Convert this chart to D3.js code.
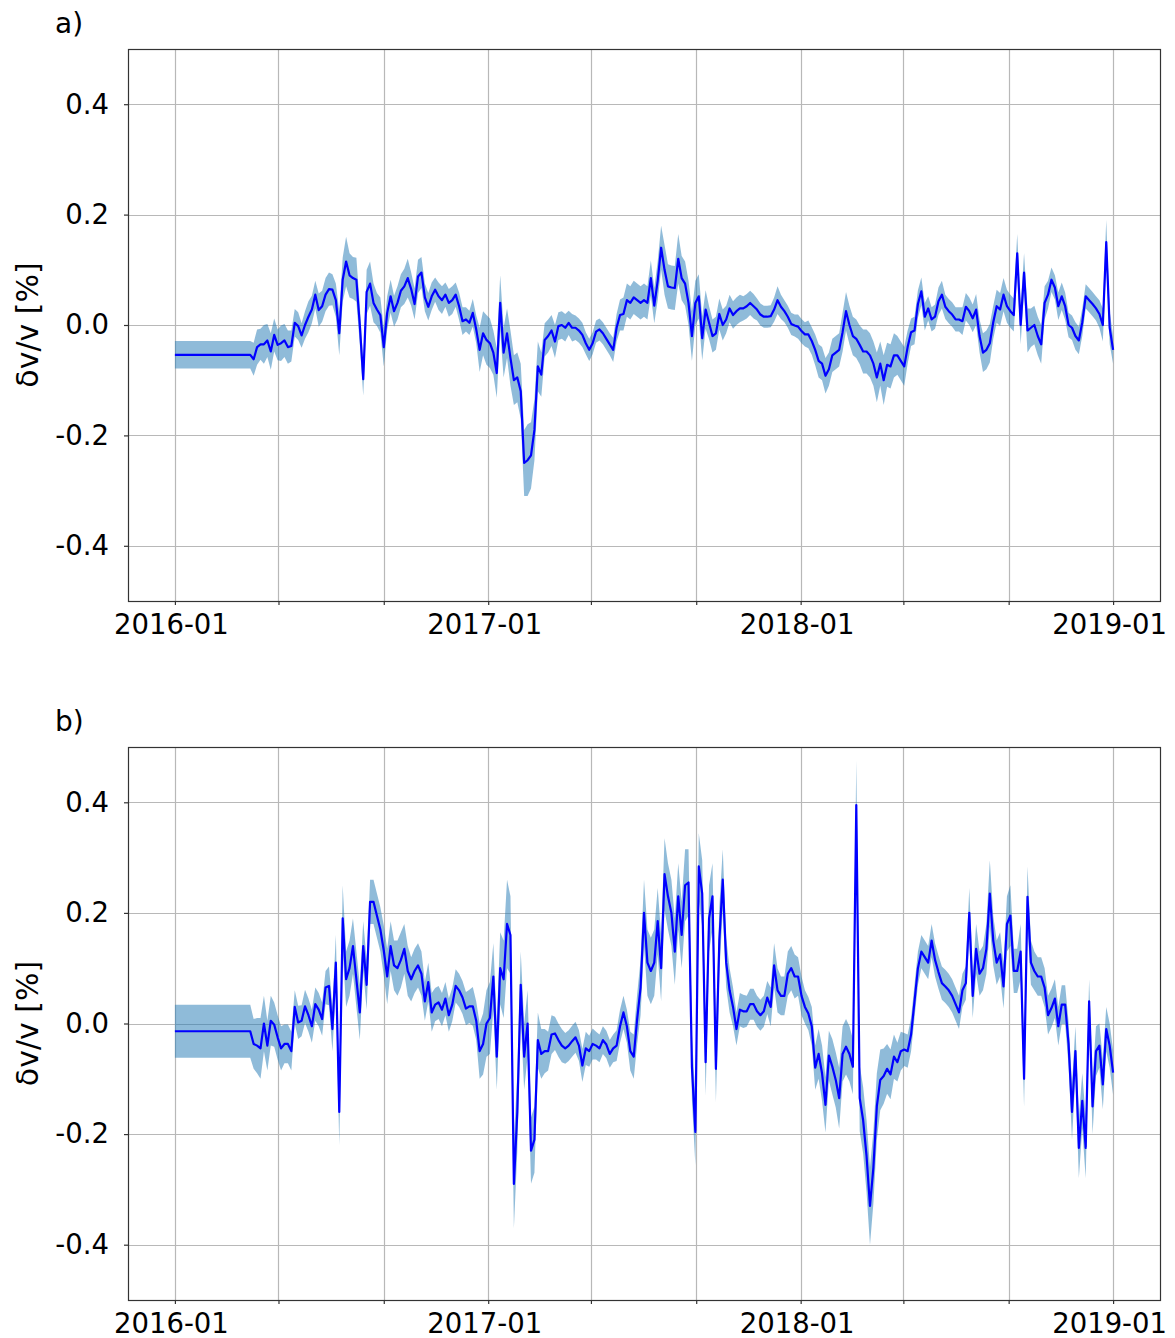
<!DOCTYPE html>
<html>
<head>
<meta charset="utf-8">
<script src="https://cdn.jsdelivr.net/npm/d3@7"></script>
<style>
  body { margin: 0; background: #fff; }
  svg { display: block; }
  text { font-family: "DejaVu Sans", sans-serif; }
</style>
</head>
<body>
<svg id="chart" width="1175" height="1338"></svg>
<script>
// Sampling of the velocity-change series: one value every 4 days from the start date.
const seriesStart = "2016-01-01";
const stepDays = 4;

// Panel a) dv/v [%]
const panelA_dv = [
  -0.054, -0.054, -0.054, -0.054, -0.054, -0.054, -0.054, -0.054, -0.054, -0.054,
  -0.054, -0.054, -0.054, -0.054, -0.054, -0.054, -0.054, -0.054, -0.054, -0.054,
  -0.054, -0.054, -0.054, -0.062, -0.040, -0.035, -0.035, -0.028, -0.048, -0.018,
  -0.036, -0.033, -0.028, -0.040, -0.038, 0.004, -0.002, -0.019, 0.000, 0.015,
  0.028, 0.055, 0.027, 0.034, 0.055, 0.065, 0.064, 0.045, -0.015, 0.082,
  0.115, 0.090, 0.085, 0.082, 0.000, -0.098, 0.060, 0.075, 0.040, 0.028,
  0.018, -0.040, 0.022, 0.052, 0.025, 0.040, 0.062, 0.070, 0.085, 0.065,
  0.038, 0.088, 0.095, 0.050, 0.033, 0.052, 0.064, 0.052, 0.045, 0.055,
  0.040, 0.045, 0.055, 0.034, 0.007, 0.010, 0.004, 0.022, -0.008, -0.045,
  -0.015, -0.027, -0.033, -0.050, -0.087, 0.040, -0.050, -0.015, -0.060, -0.100,
  -0.095, -0.120, -0.250, -0.245, -0.236, -0.190, -0.075, -0.090, -0.027, -0.020,
  -0.010, -0.030, -0.002, 0.000, -0.005, 0.004, -0.005, -0.005, -0.010, -0.018,
  -0.033, -0.045, -0.033, -0.012, -0.008, -0.015, -0.025, -0.035, -0.045, -0.005,
  0.018, 0.020, 0.045, 0.040, 0.050, 0.045, 0.040, 0.045, 0.040, 0.085,
  0.035, 0.080, 0.140, 0.100, 0.070, 0.068, 0.067, 0.120, 0.085, 0.075,
  0.040, -0.020, 0.040, 0.052, -0.024, 0.028, 0.004, -0.020, -0.015, 0.020,
  0.000, 0.010, 0.030, 0.018, 0.025, 0.030, 0.030, 0.034, 0.040, 0.034,
  0.028, 0.019, 0.015, 0.015, 0.016, 0.028, 0.045, 0.033, 0.025, 0.015,
  0.002, -0.001, -0.003, -0.011, -0.017, -0.017, -0.029, -0.045, -0.065, -0.070,
  -0.092, -0.080, -0.055, -0.050, -0.045, -0.013, 0.025, 0.000, -0.020, -0.025,
  -0.036, -0.048, -0.048, -0.055, -0.070, -0.095, -0.070, -0.100, -0.072, -0.075,
  -0.055, -0.055, -0.065, -0.075, -0.040, -0.013, -0.010, 0.038, 0.061, 0.015,
  0.030, 0.010, 0.015, 0.043, 0.055, 0.033, 0.025, 0.019, 0.010, 0.010,
  0.007, 0.033, 0.025, 0.012, 0.028, -0.020, -0.050, -0.045, -0.033, 0.005,
  0.034, 0.028, 0.055, 0.034, 0.025, 0.018, 0.130, 0.000, 0.095, -0.010,
  -0.005, 0.000, -0.020, -0.035, 0.040, 0.055, 0.082, 0.068, 0.034, 0.052,
  0.034, 0.000, -0.005, -0.020, -0.028, 0.005, 0.052, 0.045, 0.038, 0.030,
  0.020, 0.000, 0.150, -0.005, -0.045
];

// Panel a) half-width of the uncertainty band [%]
const panelA_err = [
  0.025, 0.025, 0.025, 0.025, 0.025, 0.025, 0.025, 0.025, 0.025, 0.025,
  0.025, 0.025, 0.025, 0.025, 0.025, 0.025, 0.025, 0.025, 0.025, 0.025,
  0.025, 0.025, 0.025, 0.030, 0.032, 0.028, 0.035, 0.030, 0.033, 0.030,
  0.028, 0.032, 0.030, 0.030, 0.028, 0.025, 0.025, 0.022, 0.025, 0.028,
  0.025, 0.025, 0.030, 0.028, 0.030, 0.030, 0.028, 0.030, 0.040, 0.040,
  0.045, 0.040, 0.038, 0.040, 0.035, 0.030, 0.040, 0.040, 0.035, 0.030,
  0.032, 0.035, 0.030, 0.030, 0.028, 0.030, 0.030, 0.032, 0.035, 0.030,
  0.028, 0.030, 0.028, 0.025, 0.025, 0.025, 0.022, 0.025, 0.025, 0.022,
  0.025, 0.025, 0.022, 0.025, 0.025, 0.022, 0.022, 0.025, 0.025, 0.040,
  0.040, 0.045, 0.045, 0.040, 0.045, 0.050, 0.045, 0.045, 0.050, 0.045,
  0.045, 0.050, 0.060, 0.065, 0.060, 0.055, 0.045, 0.040, 0.030, 0.030,
  0.028, 0.030, 0.025, 0.025, 0.025, 0.022, 0.025, 0.022, 0.022, 0.022,
  0.020, 0.020, 0.020, 0.020, 0.020, 0.020, 0.020, 0.020, 0.022, 0.025,
  0.028, 0.030, 0.030, 0.030, 0.030, 0.030, 0.030, 0.030, 0.030, 0.032,
  0.032, 0.035, 0.040, 0.045, 0.040, 0.040, 0.040, 0.045, 0.040, 0.040,
  0.040, 0.045, 0.040, 0.040, 0.040, 0.035, 0.030, 0.030, 0.030, 0.028,
  0.028, 0.025, 0.025, 0.025, 0.025, 0.025, 0.022, 0.022, 0.022, 0.022,
  0.020, 0.020, 0.020, 0.020, 0.020, 0.022, 0.025, 0.022, 0.020, 0.020,
  0.020, 0.020, 0.022, 0.022, 0.022, 0.025, 0.025, 0.028, 0.030, 0.030,
  0.032, 0.030, 0.030, 0.030, 0.030, 0.035, 0.035, 0.035, 0.035, 0.035,
  0.035, 0.040, 0.040, 0.040, 0.040, 0.045, 0.040, 0.045, 0.040, 0.040,
  0.040, 0.035, 0.035, 0.035, 0.030, 0.025, 0.025, 0.025, 0.025, 0.025,
  0.022, 0.022, 0.022, 0.025, 0.025, 0.022, 0.022, 0.022, 0.022, 0.022,
  0.025, 0.025, 0.025, 0.025, 0.028, 0.030, 0.035, 0.035, 0.035, 0.030,
  0.030, 0.030, 0.030, 0.030, 0.030, 0.030, 0.035, 0.035, 0.035, 0.040,
  0.035, 0.035, 0.035, 0.035, 0.030, 0.025, 0.022, 0.022, 0.025, 0.025,
  0.025, 0.022, 0.022, 0.025, 0.025, 0.025, 0.022, 0.022, 0.022, 0.022,
  0.025, 0.030, 0.040, 0.030, 0.025
];

// Panel b) dv/v [%]
const panelB_dv = [
  -0.014, -0.014, -0.014, -0.014, -0.014, -0.014, -0.014, -0.014, -0.014, -0.014,
  -0.014, -0.014, -0.014, -0.014, -0.014, -0.014, -0.014, -0.014, -0.014, -0.014,
  -0.014, -0.014, -0.014, -0.037, -0.040, -0.045, 0.000, -0.040, 0.005, -0.002,
  -0.025, -0.045, -0.037, -0.037, -0.050, 0.030, 0.002, 0.005, 0.031, 0.015,
  -0.005, 0.035, 0.025, 0.008, 0.065, 0.068, -0.010, 0.110, -0.160, 0.190,
  0.080, 0.100, 0.140, 0.080, 0.020, 0.140, 0.070, 0.220, 0.220, 0.195,
  0.170, 0.132, 0.085, 0.140, 0.105, 0.100, 0.115, 0.135, 0.095, 0.080,
  0.095, 0.105, 0.090, 0.040, 0.075, 0.020, 0.034, 0.038, 0.025, 0.045,
  0.015, 0.034, 0.068, 0.060, 0.047, 0.027, 0.031, 0.031, 0.005, -0.050,
  -0.037, 0.000, 0.010, 0.085, -0.060, 0.100, 0.080, 0.180, 0.160, -0.290,
  -0.160, 0.070, -0.060, 0.000, -0.230, -0.210, -0.030, -0.055, -0.050, -0.050,
  -0.020, -0.018, -0.030, -0.040, -0.045, -0.040, -0.032, -0.025, -0.040, -0.076,
  -0.045, -0.050, -0.037, -0.040, -0.045, -0.030, -0.038, -0.055, -0.045, -0.040,
  -0.005, 0.020, -0.005, -0.050, -0.060, 0.008, 0.065, 0.200, 0.110, 0.095,
  0.110, 0.185, 0.100, 0.270, 0.230, 0.200, 0.130, 0.230, 0.160, 0.250,
  0.255, -0.079, -0.196, 0.284, 0.235, -0.070, 0.190, 0.230, -0.082, 0.150,
  0.260, 0.110, 0.060, 0.030, -0.010, 0.025, 0.022, 0.022, 0.035, 0.035,
  0.022, 0.015, 0.022, 0.047, 0.030, 0.105, 0.060, 0.050, 0.050, 0.090,
  0.100, 0.085, 0.085, 0.050, 0.030, 0.018, -0.005, -0.080, -0.055, -0.090,
  -0.147, -0.058, -0.078, -0.102, -0.135, -0.055, -0.042, -0.055, -0.078, 0.395,
  -0.135, -0.175, -0.240, -0.330, -0.260, -0.150, -0.102, -0.095, -0.082, -0.092,
  -0.060, -0.070, -0.050, -0.047, -0.050, -0.020, 0.040, 0.100, 0.130, 0.120,
  0.110, 0.150, 0.115, 0.093, 0.073, 0.067, 0.060, 0.050, 0.035, 0.020,
  0.060, 0.073, 0.200, 0.050, 0.135, 0.090, 0.100, 0.135, 0.235, 0.150,
  0.110, 0.125, 0.067, 0.180, 0.195, 0.095, 0.095, 0.130, -0.100, 0.229,
  0.110, 0.095, 0.085, 0.085, 0.065, 0.015, 0.028, 0.045, -0.005, 0.034,
  0.034, -0.037, -0.160, -0.050, -0.225, -0.140, -0.225, 0.040, -0.150, -0.050,
  -0.040, -0.110, -0.010, -0.040, -0.089
];

// Panel b) half-width of the uncertainty band [%]
const panelB_err = [
  0.048, 0.048, 0.048, 0.048, 0.048, 0.048, 0.048, 0.048, 0.048, 0.048,
  0.048, 0.048, 0.048, 0.048, 0.048, 0.048, 0.048, 0.048, 0.048, 0.048,
  0.048, 0.048, 0.048, 0.045, 0.050, 0.055, 0.050, 0.045, 0.045, 0.040,
  0.040, 0.040, 0.035, 0.035, 0.035, 0.030, 0.030, 0.028, 0.030, 0.030,
  0.030, 0.030, 0.030, 0.030, 0.030, 0.035, 0.040, 0.050, 0.060, 0.060,
  0.050, 0.050, 0.050, 0.050, 0.050, 0.045, 0.045, 0.040, 0.040, 0.040,
  0.040, 0.045, 0.050, 0.045, 0.045, 0.050, 0.050, 0.045, 0.045, 0.040,
  0.040, 0.040, 0.040, 0.035, 0.035, 0.035, 0.030, 0.030, 0.030, 0.030,
  0.030, 0.030, 0.030, 0.030, 0.030, 0.030, 0.030, 0.035, 0.035, 0.050,
  0.055, 0.060, 0.065, 0.060, 0.060, 0.065, 0.070, 0.080, 0.070, 0.080,
  0.070, 0.060, 0.060, 0.060, 0.060, 0.060, 0.050, 0.045, 0.040, 0.035,
  0.035, 0.030, 0.030, 0.030, 0.028, 0.028, 0.028, 0.028, 0.028, 0.030,
  0.030, 0.028, 0.028, 0.025, 0.025, 0.025, 0.025, 0.025, 0.025, 0.028,
  0.030, 0.030, 0.030, 0.035, 0.040, 0.045, 0.050, 0.060, 0.060, 0.060,
  0.060, 0.060, 0.060, 0.065, 0.060, 0.060, 0.060, 0.060, 0.060, 0.065,
  0.060, 0.060, 0.060, 0.060, 0.060, 0.060, 0.060, 0.060, 0.060, 0.060,
  0.055, 0.045, 0.040, 0.035, 0.030, 0.030, 0.030, 0.028, 0.028, 0.028,
  0.028, 0.028, 0.028, 0.030, 0.035, 0.040, 0.040, 0.035, 0.035, 0.040,
  0.040, 0.040, 0.035, 0.035, 0.030, 0.030, 0.035, 0.040, 0.045, 0.050,
  0.050, 0.045, 0.050, 0.050, 0.055, 0.050, 0.050, 0.050, 0.050, 0.080,
  0.060, 0.060, 0.065, 0.070, 0.065, 0.060, 0.055, 0.050, 0.045, 0.045,
  0.040, 0.035, 0.035, 0.030, 0.030, 0.030, 0.030, 0.030, 0.030, 0.030,
  0.030, 0.030, 0.030, 0.030, 0.030, 0.030, 0.030, 0.030, 0.030, 0.030,
  0.030, 0.030, 0.045, 0.040, 0.045, 0.040, 0.040, 0.045, 0.060, 0.045,
  0.040, 0.040, 0.040, 0.050, 0.055, 0.040, 0.040, 0.050, 0.050, 0.055,
  0.040, 0.035, 0.035, 0.035, 0.035, 0.035, 0.035, 0.035, 0.035, 0.035,
  0.035, 0.040, 0.050, 0.045, 0.055, 0.050, 0.055, 0.040, 0.050, 0.045,
  0.040, 0.045, 0.040, 0.040, 0.040
];

// Axis labelling
const xTickLabels = ["2016-01", "2017-01", "2018-01", "2019-01"];
const yTicks = [-0.4, -0.2, 0.0, 0.2, 0.4];
const yTickLabels = ["-0.4", "-0.2", "0.0", "0.2", "0.4"];
const panelLabels = ["a)", "b)"];
const yAxisTitle = "\u03b4v/v [%]";

// ---------------------------------------------------------------------------
const svg = d3.select("#chart");
const TICK_FONT = 27.5;
const TITLE_FONT = 30;
const LETTER_FONT = 28;
const plotLeft = 128, plotRight = 1160;
const panels = [
  { top: 49, bottom: 601, dv: panelA_dv, err: panelA_err, label: panelLabels[0] },
  { top: 747, bottom: 1300, dv: panelB_dv, err: panelB_err, label: panelLabels[1] }
];

const parseDay = d3.utcParse("%Y-%m-%d");
const parseMonth = d3.utcParse("%Y-%m");
const t0 = parseDay(seriesStart);
const tickDates = xTickLabels.map(parseMonth);
const tEnd = tickDates[tickDates.length - 1];
// 5 % padding on both sides of the time range
const pad = 0.05 * (tEnd - t0);
const x = d3.scaleUtc()
  .domain([new Date(+t0 - pad), new Date(+tEnd + pad)])
  .range([plotLeft, plotRight]);

// Vertical grid every four months
const gridDates = d3.utcMonth.every(4).range(t0, d3.utcDay.offset(tEnd, 1));
const isLabelled = d => xTickLabels.includes(d3.utcFormat("%Y-%m")(d));

panels.forEach((p, pi) => {
  const y = d3.scaleLinear().domain([-0.5, 0.5]).range([p.bottom, p.top]);
  const g = svg.append("g");

  const clipId = "clip" + pi;
  svg.append("clipPath").attr("id", clipId)
    .append("rect")
    .attr("x", plotLeft).attr("y", p.top)
    .attr("width", plotRight - plotLeft).attr("height", p.bottom - p.top);

  // grid
  g.append("g").selectAll("line").data(gridDates).join("line")
    .attr("x1", d => Math.round(x(d)) + 0.5).attr("x2", d => Math.round(x(d)) + 0.5)
    .attr("y1", p.top).attr("y2", p.bottom)
    .attr("stroke", "#b8b8b8").attr("stroke-width", 1.2);
  g.append("g").selectAll("line").data(yTicks).join("line")
    .attr("x1", plotLeft).attr("x2", plotRight)
    .attr("y1", d => Math.round(y(d)) + 0.5).attr("y2", d => Math.round(y(d)) + 0.5)
    .attr("stroke", "#b8b8b8").attr("stroke-width", 1.2);

  const rows = p.dv.map((v, i) => ({
    date: d3.utcDay.offset(t0, i * stepDays),
    v: v,
    e: p.err[i]
  }));

  const data = g.append("g").attr("clip-path", `url(#${clipId})`);
  data.append("path").datum(rows)
    .attr("fill", "#1f77b4").attr("fill-opacity", 0.5)
    .attr("d", d3.area()
      .x(d => x(d.date))
      .y0(d => y(d.v - d.e))
      .y1(d => y(d.v + d.e)));
  data.append("path").datum(rows)
    .attr("fill", "none").attr("stroke", "#0000ff")
    .attr("stroke-width", 2.2).attr("stroke-linejoin", "round")
    .attr("d", d3.line().x(d => x(d.date)).y(d => y(d.v)));

  // axes
  const xAxis = d3.axisBottom(x)
    .tickValues(gridDates)
    .tickFormat(d => isLabelled(d) ? d3.utcFormat("%Y-%m")(d) : "")
    .tickSize(4).tickPadding(9);
  const xg = g.append("g").attr("transform", `translate(0,${p.bottom})`).call(xAxis);
  xg.selectAll(".tick text").attr("dx", -4);
  const yAxis = d3.axisLeft(y)
    .tickValues(yTicks)
    .tickFormat((d, i) => yTickLabels[i])
    .tickSize(4).tickPadding(15);
  const yg = g.append("g").attr("transform", `translate(${plotLeft},0)`).call(yAxis);
  [xg, yg].forEach(a => {
    a.select(".domain").remove();
    a.selectAll(".tick line").attr("stroke", "#333").attr("stroke-width", 1.2);
    a.selectAll(".tick text").attr("font-size", TICK_FONT).attr("fill", "#000")
      .attr("font-family", "DejaVu Sans, sans-serif");
  });

  // frame
  g.append("rect")
    .attr("x", plotLeft + 0.5).attr("y", p.top + 0.5)
    .attr("width", plotRight - plotLeft).attr("height", p.bottom - p.top)
    .attr("fill", "none").attr("stroke", "#333").attr("stroke-width", 1.2);

  // y-axis title
  g.append("text")
    .attr("transform", `translate(38,${(p.top + p.bottom) / 2}) rotate(-90)`)
    .attr("text-anchor", "middle")
    .attr("font-size", TITLE_FONT)
    .text(yAxisTitle);

  // panel letter
  g.append("text")
    .attr("x", 55).attr("y", p.top - 16)
    .attr("font-size", LETTER_FONT)
    .text(p.label);
});
</script>
</body>
</html>
